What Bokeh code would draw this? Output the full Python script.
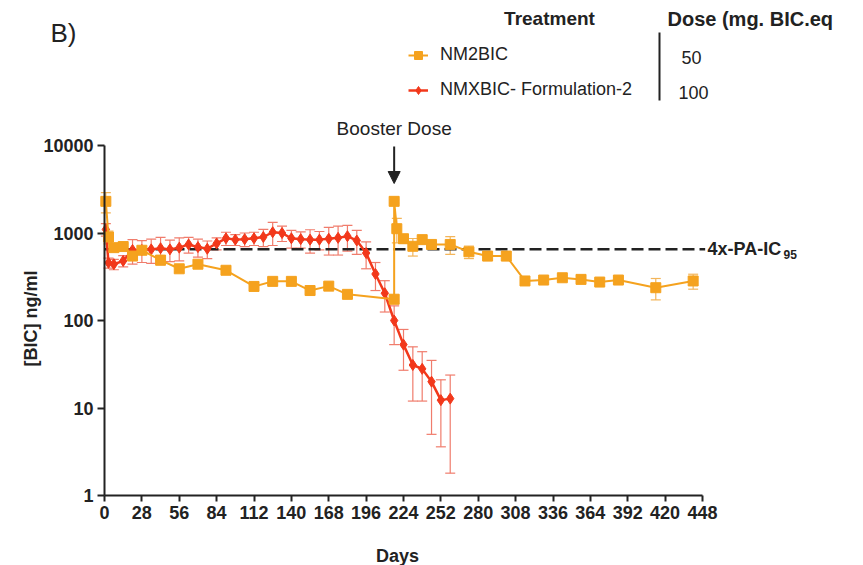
from bokeh.plotting import figure
from bokeh.models import (ColumnDataSource, Whisker, TeeHead, Label, Arrow, NormalHead,
                          FixedTicker, Legend, LegendItem, PrintfTickFormatter, Range1d)
from bokeh.embed import file_html
from bokeh.resources import INLINE

# NM2BIC (50 mg BIC eq), booster given on day 217
nm2_days = [1, 3, 7, 14, 21, 28, 42, 56, 70, 91, 112, 126, 140, 154, 168, 182, 217,
            217, 219, 224, 231, 238, 245, 259, 273, 287, 301, 315, 329, 343, 357, 371,
            385, 413, 441]
nm2_conc = [2300, 900, 680, 700, 545, 635, 490, 390, 440, 375, 245, 280, 280, 220, 247,
            199, 175, 2300, 1120, 860, 705, 840, 740, 740, 610, 545, 545, 283, 290, 308,
            295, 275, 290, 237, 283]
nm2_sd = [600, 150, 60, 50, 50, 60, 60, 30, 30, 25, 20, 25, 20, 20, 20, 20, 20,
          100, 350, 100, 160, 80, 60, 170, 100, 60, 60, 25, 20, 20, 20, 25, 25, 65, 55]

# NMXBIC Formulation-2 (100 mg BIC eq)
nmx_days = [1, 3, 7, 14, 21, 28, 35, 42, 49, 56, 63, 70, 77, 84, 91, 98, 105, 112, 119,
            126, 133, 140, 147, 154, 161, 168, 175, 182, 189, 196, 203, 210, 217, 224,
            231, 238, 245, 252, 259]
nmx_conc = [1100, 456, 440, 480, 640, 640, 650, 670, 650, 680, 740, 690, 660, 760, 870,
            840, 850, 870, 900, 1020, 1000, 870, 850, 840, 840, 860, 880, 920, 820, 590,
            340, 205, 100, 53, 31, 28, 20, 12.3, 12.8]
nmx_sd = [180, 60, 60, 70, 200, 180, 200, 220, 180, 200, 150, 160, 150, 120, 150, 120,
          150, 150, 200, 300, 200, 200, 180, 250, 200, 300, 320, 300, 250, 200, 120, 80,
          47, 26, 19, 16, 15, 8.7, 11]

x_ticks = list(range(0, 449, 28))
y_ticks = [1, 10, 100, 1000, 10000]
threshold = 650          # 4x protein-adjusted IC95
booster_day = 217

ORANGE = "#F5A21E"
ORANGE_ERR = "#F3B55A"
RED = "#F2381B"
RED_ERR = "#F07C6C"
INK = "#222222"
FONT = "Liberation Sans"

W, H = 863, 565
L, T, R, B = 104, 145, 702, 495   # where the axes box sits on the canvas

# the plotting frame spans the whole canvas; axes are pinned inside it
kx = (R - L) / (x_ticks[-1] - x_ticks[0])
decades = 4
ky = (B - T) / decades
x_lo = x_ticks[0] - L / kx
x_hi = x_ticks[-1] + (W - R) / kx
y_lo = 10 ** (-(H - B) / ky)
y_hi = 10 ** (decades + T / ky)


def sx(cx):
    return cx


def sy(cy):
    return H - cy


def xdata(cx):
    return x_ticks[0] + (cx - L) / kx


def ydata(cy):
    return 10 ** (decades + (T - cy) / ky)


p = figure(width=W, height=H, x_range=Range1d(x_lo, x_hi), y_range=Range1d(y_lo, y_hi),
           y_axis_type="log", output_backend="svg", toolbar_location=None,
           min_border=0)
p.outline_line_color = None
p.xgrid.visible = False
p.ygrid.visible = False
p.background_fill_color = "white"
p.border_fill_color = "white"

for ax in (p.xaxis[0], p.yaxis[0]):
    ax.axis_line_width = 2
    ax.axis_line_color = INK
    ax.major_tick_line_width = 2
    ax.major_tick_line_color = INK
    ax.major_tick_in = 0
    ax.minor_tick_in = 0
    ax.minor_tick_out = 0
    ax.major_label_text_font = FONT
    ax.major_label_text_font_style = "bold"
    ax.major_label_text_font_size = "18px"
    ax.major_label_text_color = INK

p.xaxis.ticker = FixedTicker(ticks=x_ticks)
p.xaxis.bounds = (x_ticks[0], x_ticks[-1])
p.xaxis.fixed_location = y_ticks[0]
p.xaxis.major_tick_out = 6
p.xaxis.major_label_standoff = 4
p.yaxis.ticker = FixedTicker(ticks=y_ticks)
p.yaxis.bounds = (y_ticks[0], y_ticks[-1])
p.yaxis.fixed_location = x_ticks[0]
p.yaxis.formatter = PrintfTickFormatter(format="%d")
p.yaxis.major_tick_out = 7
p.yaxis.major_label_standoff = 4

# threshold line across the axes box
p.segment(x0=[x_ticks[0]], x1=[x_ticks[-1] + 2], y0=[threshold], y1=[threshold],
          line_color=INK, line_width=2.5, line_dash="12 5")

# NMXBIC series
nmx_src = ColumnDataSource(dict(
    x=nmx_days, y=nmx_conc,
    upper=[c + s for c, s in zip(nmx_conc, nmx_sd)],
    lower=[c - s for c, s in zip(nmx_conc, nmx_sd)]))
p.add_layout(Whisker(source=nmx_src, base="x", upper="upper", lower="lower",
                     line_color=RED_ERR, line_width=1.2,
                     upper_head=TeeHead(size=10, line_color=RED_ERR, line_width=1.2),
                     lower_head=TeeHead(size=10, line_color=RED_ERR, line_width=1.2)))
nmx_line = p.line("x", "y", source=nmx_src, line_color=RED, line_width=2.5)
nmx_pts = p.scatter("x", "y", source=nmx_src, marker="diamond", size=11,
                    fill_color=RED, line_color=RED)

# NM2BIC series
nm2_src = ColumnDataSource(dict(
    x=nm2_days, y=nm2_conc,
    upper=[c + s for c, s in zip(nm2_conc, nm2_sd)],
    lower=[c - s for c, s in zip(nm2_conc, nm2_sd)]))
p.add_layout(Whisker(source=nm2_src, base="x", upper="upper", lower="lower",
                     line_color=ORANGE_ERR, line_width=1.2,
                     upper_head=TeeHead(size=10, line_color=ORANGE_ERR, line_width=1.2),
                     lower_head=TeeHead(size=10, line_color=ORANGE_ERR, line_width=1.2)))
nm2_line = p.line("x", "y", source=nm2_src, line_color=ORANGE, line_width=2)
nm2_pts = p.scatter("x", "y", source=nm2_src, marker="square", size=10,
                    fill_color=ORANGE, line_color=ORANGE)

# booster annotation
p.add_layout(Arrow(end=NormalHead(size=12, fill_color=INK, line_color=INK),
                   x_start=booster_day, y_start=ydata(146),
                   x_end=booster_day, y_end=ydata(183),
                   line_color=INK, line_width=2))
p.add_layout(Label(x=booster_day, y=sy(128), y_units="screen", text="Booster Dose",
                   text_align="center", text_baseline="middle", text_font=FONT,
                   text_font_size="19px", text_color=INK))


def label(text, cx, cy, size="18px", bold=False, align="left", angle=0):
    p.add_layout(Label(x=sx(cx), y=sy(cy), x_units="screen", y_units="screen",
                       text=text, angle=angle, angle_units="deg",
                       text_align=align, text_baseline="middle", text_font=FONT,
                       text_font_style="bold" if bold else "normal",
                       text_font_size=size, text_color=INK))


# threshold label
p.add_layout(Label(x=sx(707), x_units="screen", y=threshold, text="4x-PA-IC",
                   text_align="left", text_baseline="middle", text_font=FONT,
                   text_font_style="bold", text_font_size="18px", text_color=INK))
p.add_layout(Label(x=sx(783), x_units="screen", y=threshold, y_offset=-5, text="95",
                   text_align="left", text_baseline="middle", text_font=FONT,
                   text_font_style="bold", text_font_size="12px", text_color=INK))

# axis titles
label("[BIC] ng/ml", 30, 318, bold=True, align="center", angle=90)
label("Days", 397, 555, bold=True, align="center")

# panel letter and legend table
label("B)", 50, 32, size="26px")
label("Treatment", 549, 18, size="19px", bold=True, align="center")
label("Dose (mg. BIC.eq", 667, 18, size="20px", bold=True)
label("50", 691, 57, size="18px", align="center")
label("100", 693, 92, size="18px", align="center")
p.segment(x0=[xdata(659)], x1=[xdata(659)], y0=[ydata(32)], y1=[ydata(100)],
          line_color=INK, line_width=2)

legend = Legend(items=[LegendItem(label="NM2BIC", renderers=[nm2_line, nm2_pts]),
                       LegendItem(label="NMXBIC- Formulation-2",
                                  renderers=[nmx_line, nmx_pts])],
                location=(sx(408), sy(100)), orientation="vertical",
                glyph_width=20, glyph_height=20, label_height=20, spacing=14,
                padding=0, margin=0, label_standoff=12, border_line_color=None,
                background_fill_alpha=0, label_text_font=FONT,
                label_text_font_size="18px", label_text_color=INK)
p.add_layout(legend)

open("out.html", "w").write(file_html(p, INLINE))
